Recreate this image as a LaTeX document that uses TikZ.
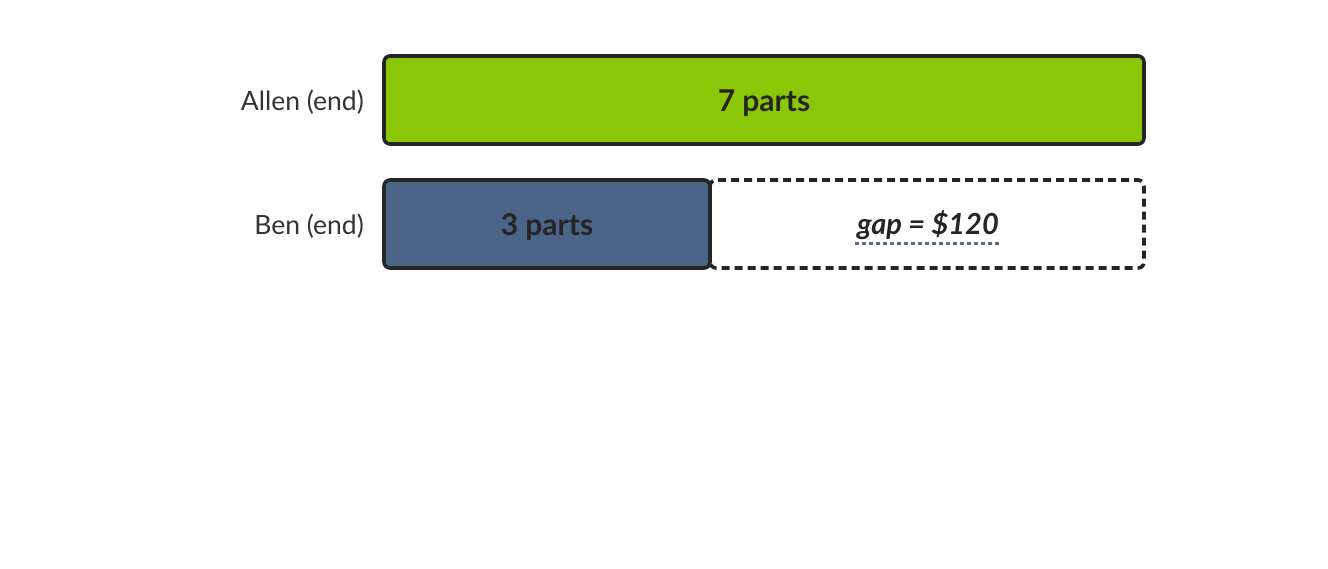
\documentclass[tikz,border=0pt]{standalone}
\usepackage{fontspec}
\setmainfont{Lato}
\definecolor{ink}{HTML}{252525}
\definecolor{lbl}{HTML}{333333}
\definecolor{grn}{HTML}{8AC807}
\definecolor{blu}{HTML}{4A6587}
\definecolor{uline}{HTML}{5A6E8C}
\begin{document}
\begin{tikzpicture}[x=1pt,y=-1pt,
  bar/.style={draw=ink,line width=3.6pt,rounded corners=6pt},
  lab/.style={anchor=east,inner sep=0pt,text=lbl,font=\fontsize{26.5}{30}\selectfont},
  big/.style={text=ink,font=\fontsize{30}{36}\selectfont\bfseries}]
\useasboundingbox (0,0) rectangle (1328,568);
\draw[bar,fill=grn] (384,56) rectangle (1144,144);
\node[big] (a) at (764,103) {7 parts};
\draw[bar,fill=blu] (384,180) rectangle (710,268);
\node[big] (b) at (547,227) {3 parts};
\draw[bar,dash pattern=on 8pt off 5pt] (710,180) rectangle (1144,268);
\node[big,font=\fontsize{29}{34}\selectfont\bfseries\itshape] (g) at (928,225) {gap = \$120};
\draw[uline,line width=3pt,dash pattern=on 4pt off 3pt] (855,243.5) -- (1000,243.5);
\node[lab] (la) at (364,102) {Allen (end)};
\node[lab] (lb) at (364,226) {Ben (end)};
\end{tikzpicture}
\end{document}
